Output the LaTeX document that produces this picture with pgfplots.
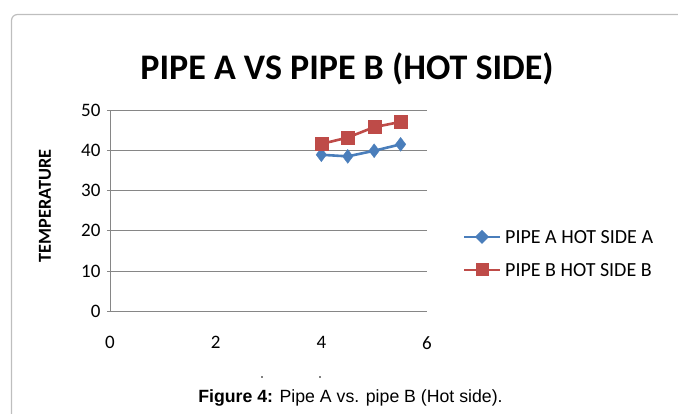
\documentclass[border=0pt]{standalone}
\usepackage{pgfplots}
\pgfplotsset{compat=1.18}
\usepackage{fontspec}
\setmainfont{Carlito}
\newfontfamily\arialfont{Liberation Sans}
\definecolor{blueA}{RGB}{74,126,187}
\definecolor{redB}{RGB}{190,75,72}
\definecolor{gridc}{RGB}{134,134,134}
\definecolor{framec}{RGB}{190,190,190}
\begin{document}
\begin{tikzpicture}[x=1pt,y=1pt]
\path[use as bounding box] (0,0) rectangle (678,414);
\draw[framec, line width=1.2pt, rounded corners=6pt] (11.5,-10) -- (11.5,399.5) -- (690,399.5);
\node[font=\bfseries\fontsize{36}{40}\selectfont] at (347,345) {PIPE A VS PIPE B (HOT SIDE)};
\begin{axis}[
  at={(110pt,103pt)}, anchor=south west,
  scale only axis, width=317pt, height=200.3pt,
  xmin=0, xmax=6, ymin=0, ymax=50,
  xtick={0,2,4,6}, ytick={0,10,20,30,40,50},
  axis x line*=bottom, axis y line*=left,
  axis line style={gridc, line width=0.8pt},
  x axis line style={-}, y axis line style={-},
  ymajorgrids, grid style={gridc, line width=0.8pt},
  xtick style={draw=none},
  ytick style={gridc, line width=0.8pt},
  tick align=outside, major tick length=3pt,
  ticklabel style={font=\fontsize{19}{21}\selectfont},
  /pgf/number format/assume math mode=true,
  xticklabel style={yshift=-19pt},
  yticklabel style={xshift=-3pt},
  clip=false,
]
\addplot[blueA, line width=2.6pt, mark=diamond*, mark size=7pt, mark options={solid, fill=blueA, draw=blueA, line width=0.3pt}]
  coordinates {(4,39.0) (4.5,38.6) (5,40.0) (5.5,41.6)};
\addplot[redB, line width=2.6pt, mark=square*, mark size=6.5pt, mark options={solid, fill=redB, draw=redB, line width=0.3pt}]
  coordinates {(4,41.7) (4.5,43.3) (5,45.9) (5.5,47.2)};
\end{axis}
\node[rotate=90, font=\bfseries\fontsize{18.3}{20}\selectfont] at (45,208) {TEMPERATURE};
% legend
\draw[blueA, line width=2.6pt] (464,177) -- (500,177);
\path[fill=blueA] (482,177) +(0,7) -- +(7,0) -- +(0,-7) -- +(-7,0) -- cycle;
\node[anchor=west, font=\fontsize{20}{22}\selectfont, inner sep=0pt] at (505,176.5) {PIPE A HOT SIDE A};
\draw[redB, line width=2.6pt] (464,144) -- (500,144);
\fill[redB] (475.5,137.5) rectangle (488.5,150.5);
\node[anchor=west, font=\fontsize{20}{22}\selectfont, inner sep=0pt] at (505,143.5) {PIPE B HOT SIDE B};
% stray dots of cut-off axis title
\fill (262,37) circle (0.9);
\fill (320,37) circle (0.9);
\node[font=\arialfont\fontsize{17.7}{20}\selectfont] at (350.5,16.5) {\textbf{Figure 4:} Pipe A vs. pipe B (Hot side).};
\end{tikzpicture}
\end{document}
